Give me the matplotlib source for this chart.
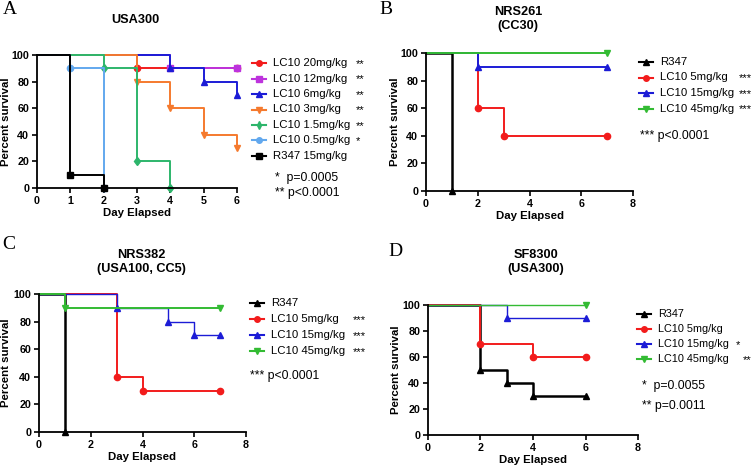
import matplotlib
matplotlib.use("Agg")
import matplotlib.pyplot as plt
from matplotlib.lines import Line2D

plt.rcParams['font.family'] = ['Liberation Sans', 'DejaVu Sans']

# ---------------- data ----------------
# Panel A: USA300
A_labels = ["LC10 20mg/kg", "LC10 12mg/kg", "LC10 6mg/kg", "LC10 3mg/kg",
            "LC10 1.5mg/kg", "LC10 0.5mg/kg", "R347 15mg/kg"]
A_stars = ["**", "**", "**", "**", "**", "*", ""]
A_days = [[0, 3, 6], [0, 4, 6], [0, 4, 5, 6], [0, 3, 4, 5, 6],
          [0, 2, 3, 4], [0, 1, 2], [0, 1, 2]]
A_surv = [[100, 90, 90], [100, 90, 90], [100, 90, 80, 70], [100, 80, 60, 40, 30],
          [100, 90, 20, 0], [100, 90, 0], [100, 10, 0]]
A_colors = ["#f21c1c", "#bd33dd", "#1c1cd6", "#f57a2e", "#2db56b", "#62a8ee", "#000000"]
A_markers = ["o", "s", "^", "v", "d", "o", "s"]
A_pvals = ["*  p=0.0005", "** p<0.0001"]

# Panel B: NRS261 (CC30)
B_labels = ["R347", "LC10 5mg/kg", "LC10 15mg/kg", "LC10 45mg/kg"]
B_stars = ["", "***", "***", "***"]
B_days = [[0, 1], [0, 2, 3, 7], [0, 2, 7], [0, 7]]
B_surv = [[100, 0], [100, 60, 40, 40], [100, 90, 90], [100, 100]]
B_pvals = ["*** p<0.0001"]

# Panel C: NRS382 (USA100, CC5)
C_labels = ["R347", "LC10 5mg/kg", "LC10 15mg/kg", "LC10 45mg/kg"]
C_stars = ["", "***", "***", "***"]
C_days = [[0, 1], [0, 3, 4, 7], [0, 3, 5, 6, 7], [0, 1, 7]]
C_surv = [[100, 0], [100, 40, 30, 30], [100, 90, 80, 70, 70], [100, 90, 90]]
C_pvals = ["*** p<0.0001"]

# Panel D: SF8300 (USA300)
D_labels = ["R347", "LC10 5mg/kg", "LC10 15mg/kg", "LC10 45mg/kg"]
D_stars = ["", "", "*", "**"]
D_days = [[0, 2, 3, 4, 6], [0, 2, 4, 6], [0, 3, 6], [0, 6]]
D_surv = [[100, 50, 40, 30, 30], [100, 70, 60, 60], [100, 90, 90], [100, 100]]
D_pvals = ["*  p=0.0055", "** p=0.0011"]

BCD_colors = ["#000000", "#f21c1c", "#1c1cd6", "#33bb33"]
BCD_markers = ["^", "o", "^", "v"]

W, H = 754, 466
fig = plt.figure(figsize=(W / 100, H / 100), dpi=100)


def fx(px):
    return px / W


def fy(py):
    return 1 - py / H


def make_axes(l, t, r, b):
    return fig.add_axes([fx(l), fy(b), fx(r) - fx(l), fy(t) - fy(b)])


def draw_panel(ax, days, surv, colors, markers, xmax, xticks, lws, ylab_px):
    for d, s, c, m, lw in zip(days, surv, colors, markers, lws):
        ax.step(d, s, where="post", color=c, lw=lw, clip_on=False)
        ax.plot(d[1:], s[1:], ls="none", marker=m, color=c, ms=4.5, clip_on=False)
    ax.set_xlim(0, xmax)
    ax.set_ylim(0, 100)
    ax.set_xticks(xticks)
    ax.set_yticks([0, 20, 40, 60, 80, 100])
    for sp in ["top", "right"]:
        ax.spines[sp].set_visible(False)
    for sp in ["left", "bottom"]:
        ax.spines[sp].set_linewidth(1.3)
    ax.tick_params(direction="out", length=3.5, width=1.2, labelsize=7.7, pad=2)
    for lab in ax.get_xticklabels() + ax.get_yticklabels():
        lab.set_fontweight("bold")
    ax.set_xlabel("Day Elapsed", fontsize=8.2, fontweight="bold", labelpad=2)
    ax.set_ylabel("Percent survival", fontsize=8.2, fontweight="bold")
    bbox = ax.get_position()
    # label anchor is the right edge of the rotated text
    ax.yaxis.set_label_coords((fx(ylab_px) - bbox.x0) / bbox.width, 0.5)


def draw_legend(labels, stars, colors, markers, x0, y0, dy, xstars, fs=8.2, lw=1.5):
    for i, (lab, st, c, m, xs) in enumerate(zip(labels, stars, colors, markers, xstars)):
        y = y0 + i * dy
        fig.add_artist(Line2D([fx(x0), fx(x0 + 14)], [fy(y), fy(y)], color=c, lw=lw))
        fig.add_artist(Line2D([fx(x0 + 7)], [fy(y)], color=c, marker=m, ms=4))
        fig.text(fx(x0 + 21), fy(y), lab, fontsize=fs, va="center", ha="left")
        if st:
            fig.text(fx(xs), fy(y + 1), st, fontsize=8, va="center", ha="left")


TFS = 9.2

# ---------------- Panel A ----------------
axA = make_axes(37, 55, 237, 188)
draw_panel(axA, A_days, A_surv, A_colors, A_markers, 6, range(0, 7), [1.4] * 7, 11)
draw_legend(A_labels, A_stars, A_colors, A_markers, 252, 63, 15.5, [356] * 7)
fig.text(fx(275), fy(178), A_pvals[0], fontsize=8.8, va="center")
fig.text(fx(275), fy(193), A_pvals[1], fontsize=8.8, va="center")
fig.text(fx(135), fy(20), "USA300", fontsize=TFS, fontweight="bold", ha="center", va="center")
fig.text(fx(3), fy(9), "A", fontsize=14, family="Liberation Serif", va="center")

# ---------------- Panel B ----------------
axB = make_axes(426, 53, 633, 191)
draw_panel(axB, B_days, B_surv, BCD_colors, BCD_markers, 8, [0, 2, 4, 6, 8],
           [1.8, 1.4, 1.4, 1.4], 400)
draw_legend(B_labels, B_stars, BCD_colors, BCD_markers, 639, 62, 15.5, [739] * 4)
fig.text(fx(640), fy(136), B_pvals[0], fontsize=8.8, va="center")
fig.text(fx(518), fy(19), "NRS261\n(CC30)", fontsize=TFS, fontweight="bold", ha="center",
         va="center", linespacing=1.3)
fig.text(fx(379), fy(9), "B", fontsize=14, family="Liberation Serif", va="center")

# ---------------- Panel C ----------------
axC = make_axes(39, 294, 246, 432)
draw_panel(axC, C_days, C_surv, BCD_colors, BCD_markers, 8, [0, 2, 4, 6, 8],
           [1.8, 1.4, 1.0, 1.4], 11)
draw_legend(C_labels, C_stars, BCD_colors, BCD_markers, 250, 303, 16, [353] * 4)
fig.text(fx(250), fy(376), C_pvals[0], fontsize=8.8, va="center")
fig.text(fx(141), fy(262), "NRS382\n(USA100, CC5)", fontsize=TFS, fontweight="bold",
         ha="center", va="center", linespacing=1.3)
fig.text(fx(2), fy(244), "C", fontsize=14, family="Liberation Serif", va="center")

# ---------------- Panel D ----------------
axD = make_axes(428, 305, 638, 435)
draw_panel(axD, D_days, D_surv, BCD_colors, BCD_markers, 8, [0, 2, 4, 6, 8],
           [1.8, 1.4, 1.0, 1.0], 401)
draw_legend(D_labels, D_stars, BCD_colors, BCD_markers, 637, 314, 15, [0, 0, 736, 743], fs=7.8)
fig.text(fx(642), fy(386), D_pvals[0], fontsize=8.8, va="center")
fig.text(fx(642), fy(406), D_pvals[1], fontsize=8.8, va="center")
fig.text(fx(536), fy(262), "SF8300\n(USA300)", fontsize=TFS, fontweight="bold",
         ha="center", va="center", linespacing=1.3)
fig.text(fx(388), fy(251), "D", fontsize=14, family="Liberation Serif", va="center")

fig.savefig("out.png", dpi=100)
